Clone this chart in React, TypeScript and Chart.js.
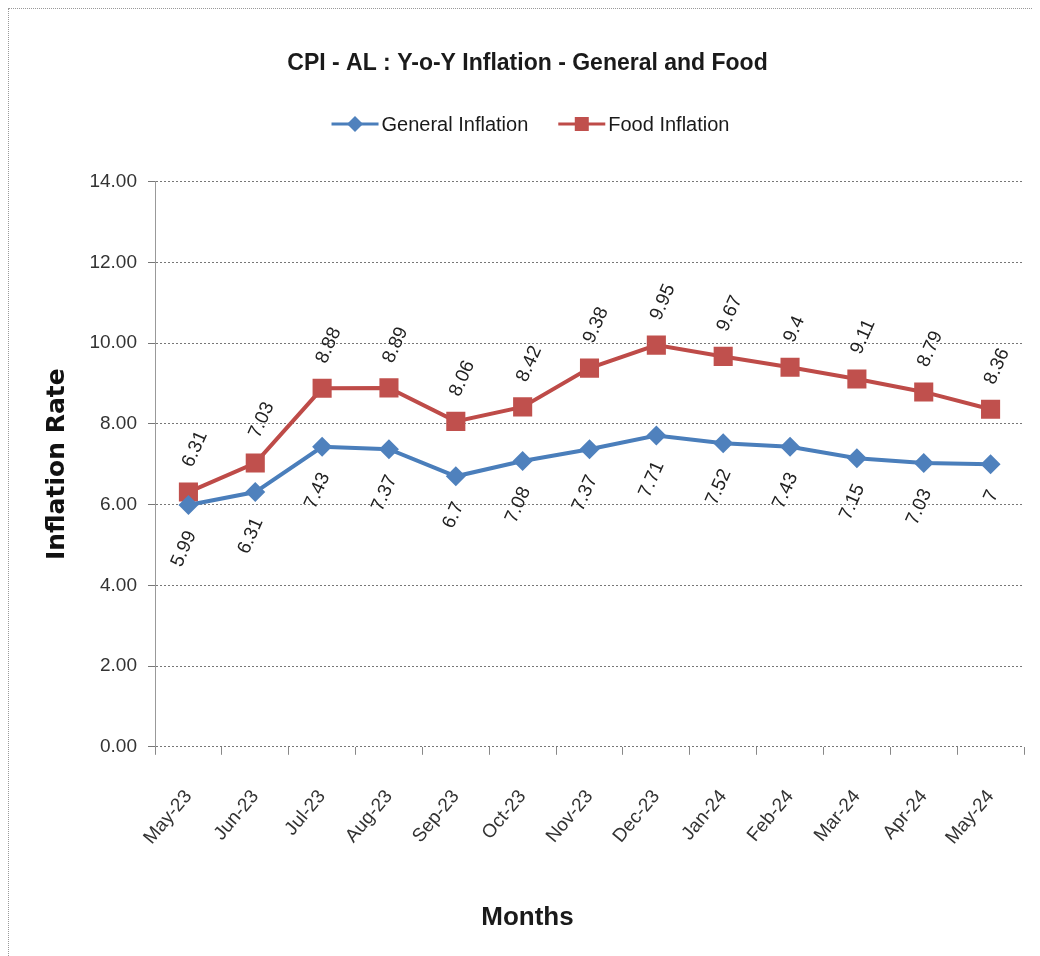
import React, { useEffect, useRef } from "react";
import { Chart, registerables } from "chart.js";

Chart.register(...registerables);

const months = [
  "May-23", "Jun-23", "Jul-23", "Aug-23", "Sep-23", "Oct-23", "Nov-23",
  "Dec-23", "Jan-24", "Feb-24", "Mar-24", "Apr-24", "May-24",
];
const generalInflation = [5.99, 6.31, 7.43, 7.37, 6.7, 7.08, 7.37, 7.71, 7.52, 7.43, 7.15, 7.03, 7];
const foodInflation = [6.31, 7.03, 8.88, 8.89, 8.06, 8.42, 9.38, 9.95, 9.67, 9.4, 9.11, 8.79, 8.36];
const yMin = 0;
const yMax = 14;
const yStep = 2;

const SANS = '"Liberation Sans", Arial, sans-serif';
const WIDE = '"DejaVu Sans", "Liberation Sans", sans-serif';

const BLUE_LINE = "#4A7EBB";
const BLUE_FILL = "#4F81BD";
const RED_LINE = "#BE4B48";
const RED_FILL = "#C0504D";

function drawMarker(ctx: CanvasRenderingContext2D, style: string, x: number, y: number, r: number, fill: string) {
  ctx.fillStyle = fill;
  ctx.beginPath();
  if (style === "rectRot") {
    ctx.moveTo(x, y - r);
    ctx.lineTo(x + r, y);
    ctx.lineTo(x, y + r);
    ctx.lineTo(x - r, y);
    ctx.closePath();
  } else {
    ctx.rect(x - r, y - r, 2 * r, 2 * r);
  }
  ctx.fill();
}

const legendPlugin = {
  id: "lineLegend",
  afterDraw(chart: any) {
    const ctx: CanvasRenderingContext2D = chart.ctx;
    ctx.save();
    ctx.font = `20px ${SANS}`;
    ctx.textBaseline = "middle";
    ctx.textAlign = "left";
    const lineW = 47;
    const gapText = 3;
    const gapItem = 30;
    const items = chart.data.datasets.map((ds: any, i: number) => ({
      label: ds.label,
      line: ds.borderColor,
      fill: ds.pointBackgroundColor,
      style: ds.pointStyle,
      r: i === 0 ? 8 : 7,
    }));
    const widths = items.map((it: any) => lineW + gapText + ctx.measureText(it.label).width);
    const total = widths.reduce((a: number, b: number) => a + b, 0) + gapItem * (items.length - 1);
    let x = chart.width / 2 + 3 - total / 2;
    const y = 115;
    items.forEach((it: any, i: number) => {
      ctx.strokeStyle = it.line;
      ctx.lineWidth = 3;
      ctx.beginPath();
      ctx.moveTo(x, y);
      ctx.lineTo(x + lineW, y);
      ctx.stroke();
      drawMarker(ctx, it.style, x + lineW / 2, y, it.r, it.fill);
      ctx.fillStyle = "#1a1a1a";
      ctx.fillText(it.label, x + lineW + gapText, y + 1);
      x += widths[i] + gapItem;
    });
    ctx.restore();
  },
};

const labelPlugin = {
  id: "rotLabels",
  afterDatasetsDraw(chart: any) {
    const ctx: CanvasRenderingContext2D = chart.ctx;
    ctx.save();
    ctx.font = `19px ${SANS}`;
    ctx.fillStyle = "#222";
    ctx.textBaseline = "middle";
    const angle = (-66 * Math.PI) / 180;
    chart.data.datasets.forEach((ds: any, di: number) => {
      const meta = chart.getDatasetMeta(di);
      meta.data.forEach((pt: any, i: number) => {
        const text = String(ds.data[i]);
        ctx.save();
        if (di === 0) {
          ctx.translate(pt.x + 3, pt.y + 27);
          ctx.rotate(angle);
          ctx.textAlign = "right";
        } else {
          ctx.translate(pt.x - 1, pt.y - 26);
          ctx.rotate(angle);
          ctx.textAlign = "left";
        }
        ctx.fillText(text, 0, 0);
        ctx.restore();
      });
    });
    ctx.restore();
  },
};

export default function App() {
  const ref = useRef<HTMLCanvasElement | null>(null);

  useEffect(() => {
    document.documentElement.style.overflow = "hidden";
    document.body.style.overflow = "hidden";
    const canvas = ref.current;
    if (!canvas) return;
    const chart = new Chart(canvas, {
      type: "line",
      data: {
        labels: months,
        datasets: [
          {
            label: "General Inflation",
            data: generalInflation,
            borderColor: BLUE_LINE,
            backgroundColor: BLUE_FILL,
            pointBackgroundColor: BLUE_FILL,
            pointBorderColor: BLUE_FILL,
            pointBorderWidth: 0,
            pointStyle: "rectRot",
            pointRadius: 10,
            borderWidth: 4,
            tension: 0,
          },
          {
            label: "Food Inflation",
            data: foodInflation,
            borderColor: RED_LINE,
            backgroundColor: RED_FILL,
            pointBackgroundColor: RED_FILL,
            pointBorderColor: RED_FILL,
            pointBorderWidth: 0,
            pointStyle: "rect",
            pointRadius: 13.5,
            borderWidth: 4,
            tension: 0,
          },
        ],
      },
      options: {
        responsive: false,
        animation: false,
        layout: { padding: { left: 22, right: 22, top: 0, bottom: 0 } },
        plugins: {
          legend: { display: false },
          tooltip: { enabled: false },
          title: {
            display: true,
            text: "CPI - AL : Y-o-Y Inflation - General and Food",
            color: "#1a1a1a",
            font: { family: SANS, size: 23, weight: "bold" },
            padding: { top: 41, bottom: 104 },
          },
          subtitle: {
            display: true,
            position: "bottom",
            text: "Months",
            color: "#1a1a1a",
            font: { family: SANS, size: 26, weight: "bold" },
            padding: { top: 22, bottom: 23 },
          },
        },
        scales: {
          x: {
            type: "category",
            offset: true,
            grid: {
              offset: true,
              drawOnChartArea: false,
              color: "#888",
              tickLength: 8,
            },
            border: { display: false },
            ticks: {
              color: "#333",
              font: { family: SANS, size: 19 },
              minRotation: 50,
              maxRotation: 50,
              padding: 31,
              autoSkip: false,
            },
            afterFit: (s: any) => {
              s.height = 133;
            },
          },
          y: {
            min: yMin,
            max: yMax,
            ticks: {
              stepSize: yStep,
              color: "#333",
              font: { family: SANS, size: 19 },
              padding: 11,
              callback: (v: any) => Number(v).toFixed(2),
            },
            grid: {
              color: "#777",
              lineWidth: 1,
              tickLength: 7,
            },
            border: { display: true, color: "#999", width: 1, dash: [2, 2] },
            title: {
              display: true,
              text: "Inflation Rate",
              color: "#111",
              font: { family: WIDE, size: 25, weight: "bold" },
              padding: { top: 11, bottom: 0 },
            },
            afterFit: (s: any) => {
              s.width = 124;
            },
          },
        },
      },
      plugins: [legendPlugin, labelPlugin],
    });
    return () => chart.destroy();
  }, []);

  return (
    <div
      style={{
        width: 1038,
        height: 948,
        borderLeft: "1px dotted #999",
        borderTop: "1px dotted #999",
        boxSizing: "border-box",
      }}
    >
      <canvas ref={ref} width={1037} height={947} style={{ display: "block" }} />
    </div>
  );
}
